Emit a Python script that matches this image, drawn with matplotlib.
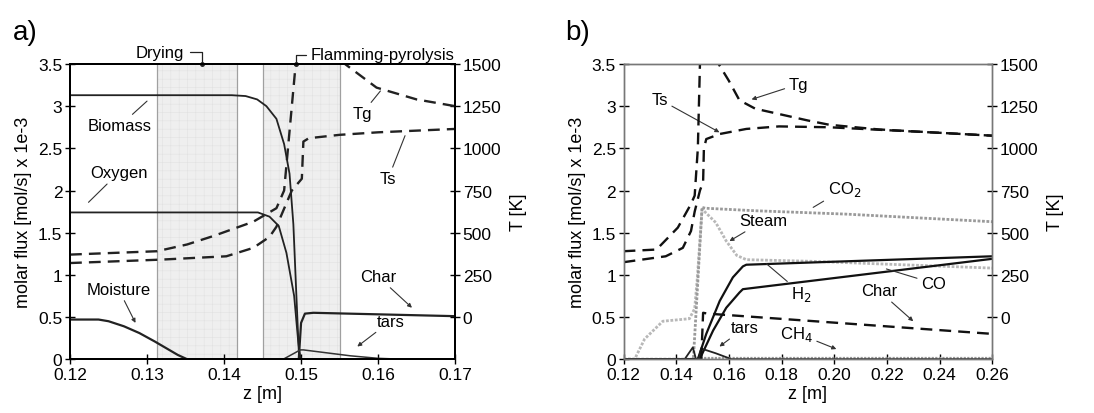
import matplotlib
matplotlib.use("Agg")
import matplotlib.pyplot as plt

plt.rcParams['font.family'] = ['Liberation Sans', 'DejaVu Sans']
plt.rcParams['font.size'] = 12
plt.rcParams['hatch.linewidth'] = 0.4

# ---------------- panel a) data ----------------
z_bio = [0.12, 0.141, 0.1428, 0.1443, 0.1455, 0.1468, 0.1478, 0.1485, 0.149, 0.1493, 0.1497, 0.150, 0.17]
biomass = [3.13, 3.13, 3.12, 3.08, 3.0, 2.85, 2.55, 2.2, 1.6, 0.95, 0.1, 0.0, 0.0]

z_oxy = [0.12, 0.1444, 0.1459, 0.1471, 0.1481, 0.1491, 0.1496, 0.1499, 0.17]
oxygen = [1.74, 1.74, 1.69, 1.58, 1.26, 0.75, 0.24, 0.0, 0.0]

z_moist = [0.12, 0.1237, 0.125, 0.127, 0.129, 0.131, 0.1325, 0.134, 0.1352, 0.17]
moisture = [0.47, 0.47, 0.45, 0.39, 0.31, 0.21, 0.13, 0.05, 0.0, 0.0]

z_char_a = [0.12, 0.1497, 0.150, 0.1505, 0.1516, 0.17]
char_a = [0.0, 0.0, 0.43, 0.54, 0.55, 0.51]

z_tars_a = [0.12, 0.1477, 0.1499, 0.1503, 0.1564, 0.16, 0.163, 0.17]
tars_a = [0.0, 0.0, 0.11, 0.11, 0.04, 0.01, 0.0, 0.0]

z_tg_a = [0.12, 0.1313, 0.1352, 0.1386, 0.1438, 0.1468, 0.1478, 0.1493, 0.152, 0.1557, 0.1598, 0.165, 0.17]
tg_a = [370, 390, 430, 480, 565, 645, 750, 1500, 1750, 1500, 1360, 1290, 1250]

z_ts_a = [0.12, 0.1317, 0.1403, 0.1438, 0.1459, 0.1468, 0.1488, 0.1501, 0.1503, 0.151, 0.155, 0.16, 0.165, 0.17]
ts_a = [320, 340, 360, 410, 475, 535, 750, 820, 1040, 1060, 1080, 1095, 1105, 1115]

drying = (0.1313, 0.1417)
flamming = (0.145, 0.155)

# ---------------- panel b) data ----------------
z_tg_b = [0.12, 0.1325, 0.135, 0.1406, 0.1456, 0.147, 0.1482, 0.149, 0.152, 0.1561, 0.16, 0.164,
          0.17, 0.18, 0.19, 0.198, 0.21, 0.217, 0.2425, 0.26]
tg_b = [390, 400, 440, 530, 670, 720, 1000, 1500, 1900, 1500, 1400, 1285,
        1235, 1200, 1165, 1140, 1122, 1112, 1090, 1075]

z_ts_b = [0.12, 0.136, 0.1425, 0.1456, 0.147, 0.149, 0.1502, 0.1505, 0.1514, 0.1565, 0.1666,
          0.179, 0.198, 0.217, 0.2425, 0.26]
ts_b = [325, 360, 410, 510, 625, 750, 800, 1000, 1055, 1085, 1115, 1130, 1125, 1110, 1090, 1075]

z_steam = [0.12, 0.1242, 0.128, 0.1349, 0.145, 0.147, 0.148, 0.1498, 0.155, 0.159, 0.163,
           0.1666, 0.192, 0.217, 0.26]
steam = [0.0, 0.0, 0.24, 0.45, 0.48, 0.6, 0.96, 1.78, 1.62, 1.40, 1.23, 1.18, 1.16, 1.13, 1.08]

z_co2 = [0.12, 0.1465, 0.1498, 0.151, 0.17, 0.2045, 0.26]
co2 = [0.0, 0.0, 1.80, 1.79, 1.76, 1.72, 1.63]

z_h2 = [0.12, 0.1482, 0.1514, 0.1565, 0.1615, 0.1653, 0.1666, 0.26]
h2 = [0.0, 0.0, 0.30, 0.69, 0.97, 1.10, 1.12, 1.22]

z_co = [0.12, 0.1489, 0.154, 0.159, 0.164, 0.1653, 0.26]
co = [0.0, 0.0, 0.34, 0.61, 0.79, 0.83, 1.19]

z_char_b = [0.1495, 0.1502, 0.152, 0.26]
char_b = [0.0, 0.55, 0.54, 0.30]

z_tars_b = [0.12, 0.1432, 0.1463, 0.1475, 0.1485, 0.1494, 0.1501, 0.155, 0.161, 0.26]
tars_b = [0.0, 0.0, 0.14, 0.0, 0.0, 0.12, 0.12, 0.07, 0.0, 0.0]

z_ch4 = [0.148, 0.26]
ch4 = [0.01, 0.01]

yticks = [0, 0.5, 1, 1.5, 2, 2.5, 3, 3.5]
ylabels = ['0', '0.5', '1', '1.5', '2', '2.5', '3', '3.5']
tticks = [0, 250, 500, 750, 1000, 1250, 1500]

fig = plt.figure(figsize=(10.94, 4.14), dpi=100)
axa = fig.add_axes([0.064, 0.130, 0.352, 0.713])
axb = fig.add_axes([0.570, 0.130, 0.337, 0.713])

dash = (0, (5, 3))


def setup(ax, xticks, xlabels, spine_col, spine_lw):
    ax.set_ylim(0, 3.5)
    ax.set_yticks(yticks)
    ax.set_yticklabels(ylabels)
    ax.set_xticks(xticks)
    ax.set_xticklabels(xlabels)
    ax.set_xlim(xticks[0], xticks[-1])
    ax.tick_params(direction='inout', length=7, width=1, labelsize=12.5, pad=2)
    ax.set_xlabel('z [m]', labelpad=2, fontsize=13)
    ax.set_ylabel('molar flux [mol/s] x 1e-3', labelpad=4, fontsize=13)
    for s in ax.spines.values():
        s.set_color(spine_col)
        s.set_linewidth(spine_lw)
    tw = ax.twinx()
    tw.set_ylim(-250, 1500)
    tw.set_yticks(tticks)
    tw.tick_params(direction='inout', length=7, width=1, labelsize=12.5, pad=2)
    tw.set_ylabel('T [K]', labelpad=6, fontsize=13)
    for s in tw.spines.values():
        s.set_color(spine_col)
        s.set_linewidth(spine_lw)
    return tw


# ---------------- panel a) ----------------
ta = setup(axa, [0.12, 0.13, 0.14, 0.15, 0.16, 0.17],
           ['0.12', '0.13', '0.14', '0.15', '0.16', '0.17'], 'black', 1.4)
for lo, hi in (drying, flamming):
    axa.axvspan(lo, hi, facecolor='#efefef', edgecolor='#e2e2e2', hatch='++', lw=0, zorder=0)
    axa.axvline(lo, color='#a0a0a0', lw=0.9, zorder=1)
    axa.axvline(hi, color='#a0a0a0', lw=0.9, zorder=1)

axa.plot(z_bio, biomass, color='#222222', lw=1.3)
axa.plot(z_oxy, oxygen, color='#222222', lw=1.3)
axa.plot(z_moist, moisture, color='#222222', lw=1.6)
axa.plot(z_char_a, char_a, color='#222222', lw=1.6)
axa.plot(z_tars_a, tars_a, color='#333333', lw=1.1)
ta.plot(z_tg_a, tg_a, color='#222222', lw=1.7, linestyle=dash)
ta.plot(z_ts_a, ts_a, color='#222222', lw=1.7, linestyle=dash)

aprops = dict(arrowstyle='-|>', color='#333333', lw=0.8, mutation_scale=6, shrinkA=1, shrinkB=0)
lprops = dict(arrowstyle='-', color='#333333', lw=0.8, shrinkA=1, shrinkB=0)

axa.annotate('Biomass', xy=(0.13, 3.06), xytext=(0.1265, 2.77), ha='center', va='center', arrowprops=lprops)
axa.annotate('Oxygen', xy=(0.1224, 1.86), xytext=(0.1263, 2.21), ha='center', va='center', arrowprops=lprops)
axa.annotate('Moisture', xy=(0.1285, 0.43), xytext=(0.1263, 0.83), ha='center', va='center', arrowprops=aprops)
axa.annotate('Char', xy=(0.1644, 0.61), xytext=(0.1600, 0.98), ha='center', va='center', arrowprops=aprops)
axa.annotate('tars', xy=(0.1573, 0.15), xytext=(0.1616, 0.45), ha='center', va='center', arrowprops=aprops)
axa.annotate('Tg', xy=(0.1603, 3.18), xytext=(0.1579, 2.91), ha='center', va='center', arrowprops=lprops)
axa.annotate('Ts', xy=(0.1635, 2.65), xytext=(0.1613, 2.14), ha='center', va='center', arrowprops=lprops)

# bracket labels above the top axis
axa.annotate('Drying', xy=(0.1371, 3.5), xytext=(0.1317, 3.64), ha='center', va='center',
             annotation_clip=False,
             arrowprops=dict(arrowstyle='-', color='#222222', lw=0.9,
                             connectionstyle='angle,angleA=0,angleB=90,rad=0', shrinkA=2, shrinkB=0))
axa.plot([0.1371], [3.5], marker='o', ms=2.5, color='#222222', clip_on=False)
axa.annotate('Flamming-pyrolysis', xy=(0.1494, 3.5), xytext=(0.1513, 3.61), ha='left', va='center',
             annotation_clip=False,
             arrowprops=dict(arrowstyle='-', color='#222222', lw=0.9,
                             connectionstyle='angle,angleA=0,angleB=90,rad=0', shrinkA=2, shrinkB=0))
axa.plot([0.1494], [3.5], marker='o', ms=2.5, color='#222222', clip_on=False)

# ---------------- panel b) ----------------
tb = setup(axb, [0.12, 0.14, 0.16, 0.18, 0.20, 0.22, 0.24, 0.26],
           ['0.12', '0.14', '0.16', '0.18', '0.20', '0.22', '0.24', '0.26'], '#777777', 1.0)

axb.plot(z_steam, steam, color='#b8b8b8', lw=2.0, linestyle=(0, (1, 0.6)))
axb.plot(z_co2, co2, color='#9a9a9a', lw=2.0, linestyle=(0, (1, 0.6)))
axb.plot(z_ch4, ch4, color='#9a9a9a', lw=1.6, linestyle=(0, (1, 0.6)))
axb.plot(z_h2, h2, color='#111111', lw=1.6)
axb.plot(z_co, co, color='#111111', lw=1.6)
axb.plot(z_tars_b, tars_b, color='#222222', lw=1.3)
axb.plot(z_char_b, char_b, color='#111111', lw=1.7, linestyle=dash)
tb.plot(z_tg_b, tg_b, color='#111111', lw=1.7, linestyle=dash)
tb.plot(z_ts_b, ts_b, color='#111111', lw=1.7, linestyle=dash)

axb.annotate('Tg', xy=(0.1686, 3.08), xytext=(0.1864, 3.26), ha='center', va='center', arrowprops=aprops)
axb.annotate('Ts', xy=(0.1564, 2.69), xytext=(0.1337, 3.08), ha='center', va='center', arrowprops=aprops)
axb.annotate('CO$_2$', xy=(0.1920, 1.80), xytext=(0.2038, 2.02), ha='center', va='center', arrowprops=lprops)
axb.annotate('Steam', xy=(0.1602, 1.40), xytext=(0.1731, 1.64), ha='center', va='center', arrowprops=aprops)
axb.annotate('H$_2$', xy=(0.1743, 1.13), xytext=(0.1875, 0.78), ha='center', va='center', arrowprops=lprops)
axb.annotate('CO', xy=(0.2198, 1.07), xytext=(0.2377, 0.90), ha='center', va='center', arrowprops=lprops)
axb.annotate('Char', xy=(0.2300, 0.45), xytext=(0.2170, 0.81), ha='center', va='center', arrowprops=aprops)
axb.annotate('tars', xy=(0.1564, 0.15), xytext=(0.1659, 0.37), ha='center', va='center', arrowprops=aprops)
axb.annotate('CH$_4$', xy=(0.2008, 0.12), xytext=(0.1856, 0.31), ha='center', va='center', arrowprops=aprops)

fig.text(0.012, 0.92, 'a)', fontsize=20, va='center')
fig.text(0.517, 0.92, 'b)', fontsize=20, va='center')

fig.savefig('out.png', dpi=100)
